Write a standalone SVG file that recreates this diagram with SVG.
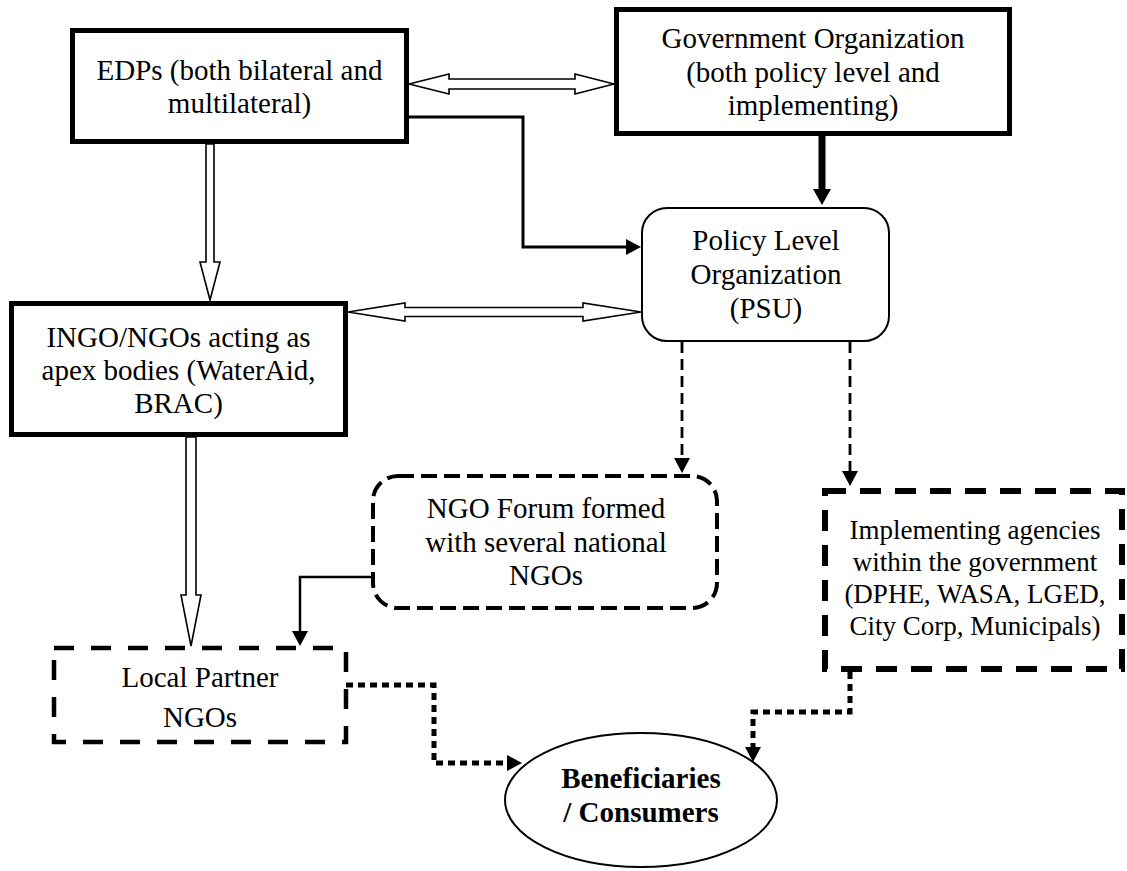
<svg xmlns="http://www.w3.org/2000/svg" width="1127" height="871" viewBox="0 0 1127 871">
<style>
text{font-family:"Liberation Serif","Times New Roman",serif;font-size:29px;fill:#000;text-anchor:middle}
.b{font-weight:bold}
.s27{font-size:27px}
.thick{fill:#fff;stroke:#000;stroke-width:5}
.round{fill:#fff;stroke:#000;stroke-width:2}
.dash4{fill:#fff;stroke:#000;stroke-width:4;stroke-dasharray:16 7}
.dash6{fill:#fff;stroke:#000;stroke-width:6;stroke-dasharray:21 14}
.dashLP{fill:#fff;stroke:#000;stroke-width:4.5;stroke-dasharray:20 17}
.hollow{fill:#fff;stroke:#000;stroke-width:1.6;stroke-linejoin:miter}
.solid{fill:none;stroke:#000;stroke-width:3}
.solid7{fill:none;stroke:#000;stroke-width:7}
.solid2{fill:none;stroke:#000;stroke-width:2.5}
.dashed{fill:none;stroke:#000;stroke-width:2.8;stroke-dasharray:11 6}
.dotted{fill:none;stroke:#000;stroke-width:5;stroke-dasharray:7 5}
</style>
<defs>
<marker id="ah" markerUnits="userSpaceOnUse" markerWidth="15" markerHeight="16" refX="0" refY="8" orient="auto" overflow="visible">
<path d="M0,0 L15,8 L0,16 Z" fill="#000"/>
</marker>
<marker id="ahL" markerUnits="userSpaceOnUse" markerWidth="16" markerHeight="18" refX="0" refY="9" orient="auto" overflow="visible">
<path d="M0,0 L16,9 L0,18 Z" fill="#000"/>
</marker>
</defs>

<g id="connectors">
<path class="hollow" d="M409,84 L449,74 L449,79 L575,79 L575,74 L614,84 L575,94 L575,89 L449,89 L449,94 Z"/>
<path class="hollow" d="M348,312 L405,303 L405,307.5 L583,307.5 L583,303 L641,312 L583,321 L583,316.5 L405,316.5 L405,321 Z"/>
<path class="hollow" d="M206,144 L214,144 L214,262 L220,262 L210,300 L200,262 L206,262 Z"/>
<path class="hollow" d="M186,437 L196,437 L196,595 L201,595 L191,646 L181,595 L186,595 Z"/>
<path class="solid" d="M409,117 L523,117 L523,247 L626,247" marker-end="url(#ah)"/>
<path class="solid7" d="M822,136 L822,189" marker-end="url(#ahL)"/>
<path class="dashed" d="M682,342 L682,458" marker-end="url(#ah)"/>
<path class="dashed" d="M850,342 L850,471" marker-end="url(#ah)"/>
<path class="solid2" d="M372,577 L300,577 L300,631" marker-end="url(#ah)"/>
<path class="dotted" d="M346,685 L434,685 L434,763 L507,763" marker-end="url(#ah)"/>
<path class="dotted" d="M850,660 L850,712 L753,712 L753,747" marker-end="url(#ah)"/>
</g>

<g id="edps">
<rect class="thick" x="72.5" y="30.5" width="334" height="111"/>
<text x="239.5" y="80">EDPs (both bilateral and</text>
<text x="239.5" y="113">multilateral)</text>
</g>

<g id="gov">
<rect class="thick" x="616.5" y="9.5" width="393" height="124"/>
<text x="813" y="48">Government Organization</text>
<text x="813" y="82">(both policy level and</text>
<text x="813" y="115">implementing)</text>
</g>

<g id="policy">
<rect class="round" x="642" y="208" width="247" height="133" rx="25" ry="25"/>
<text x="766" y="250">Policy Level</text>
<text x="766" y="284">Organization</text>
<text x="766" y="318">(PSU)</text>
</g>

<g id="ingo">
<rect class="thick" x="11.5" y="303.5" width="334" height="131"/>
<text x="178.5" y="347">INGO/NGOs acting as</text>
<text x="178.5" y="380">apex bodies (WaterAid,</text>
<text x="178.5" y="413">BRAC)</text>
</g>

<g id="ngoforum">
<rect class="dash4" x="373" y="476" width="344" height="132" rx="25" ry="25"/>
<text x="546" y="518">NGO Forum formed</text>
<text x="546" y="552">with several national</text>
<text x="546" y="585">NGOs</text>
</g>

<g id="implementing">
<rect class="dash6" x="825" y="491" width="297" height="178"/>
<text class="s27" x="975" y="539">Implementing agencies</text>
<text class="s27" x="975" y="571">within the government</text>
<text class="s27" x="975" y="603">(DPHE, WASA, LGED,</text>
<text class="s27" x="975" y="635">City Corp, Municipals)</text>
</g>

<g id="localpartner">
<rect class="dashLP" x="54" y="648" width="292" height="94"/>
<text x="200" y="687">Local Partner</text>
<text x="200" y="727">NGOs</text>
</g>

<g id="beneficiaries">
<ellipse cx="641" cy="800" rx="136" ry="67" fill="#fff" stroke="#000" stroke-width="2"/>
<text class="b" x="641" y="788">Beneficiaries</text>
<text class="b" x="641" y="822">/ Consumers</text>
</g>
</svg>
